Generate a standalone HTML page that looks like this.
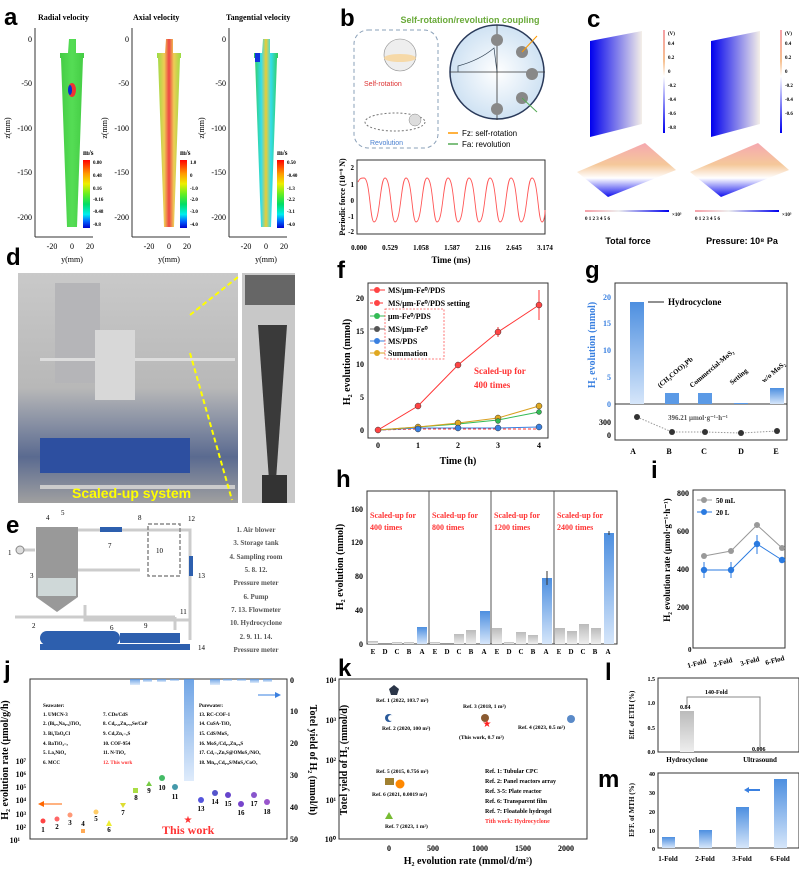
<!DOCTYPE html>
<html><head><meta charset="utf-8"><style>
body{margin:0;background:#fff}
svg{display:block;font-family:"Liberation Serif",serif}
.s{font-family:"Liberation Sans",sans-serif}
.L{font-family:"Liberation Sans",sans-serif;font-weight:bold;font-size:24px}
.t{font-size:8px;font-weight:bold}
.ax{fill:none;stroke:#333;stroke-width:1}
</style></head><body>
<svg width="799" height="870" viewBox="0 0 799 870" xmlns="http://www.w3.org/2000/svg">
<defs>
<linearGradient id="bb" x1="0" y1="0" x2="0" y2="1"><stop offset="0" stop-color="#4d8fe0"/><stop offset="1" stop-color="#d6e6fa"/></linearGradient>
<linearGradient id="gb" x1="0" y1="0" x2="0" y2="1"><stop offset="0" stop-color="#bbb"/><stop offset="1" stop-color="#eee"/></linearGradient>
<linearGradient id="cb1" x1="0" y1="0" x2="0" y2="1"><stop offset="0" stop-color="#f00"/><stop offset=".2" stop-color="#f90"/><stop offset=".35" stop-color="#ee0"/><stop offset=".5" stop-color="#6e2"/><stop offset=".65" stop-color="#0d6"/><stop offset=".8" stop-color="#0ee"/><stop offset=".9" stop-color="#06f"/><stop offset="1" stop-color="#00c"/></linearGradient>
<linearGradient id="cone1" x1="0" x2="1"><stop offset="0" stop-color="#4c4"/><stop offset=".5" stop-color="#5d5"/><stop offset="1" stop-color="#4c4"/></linearGradient>
<linearGradient id="cone2" x1="0" x2="1"><stop offset="0" stop-color="#9d4"/><stop offset=".3" stop-color="#ec5"/><stop offset=".5" stop-color="#e44"/><stop offset=".7" stop-color="#ec5"/><stop offset="1" stop-color="#9d4"/></linearGradient>
<linearGradient id="cone3" x1="0" x2="1"><stop offset="0" stop-color="#3c5"/><stop offset=".3" stop-color="#3de"/><stop offset=".5" stop-color="#ec3"/><stop offset=".7" stop-color="#3de"/><stop offset="1" stop-color="#3c5"/></linearGradient>
<linearGradient id="cpan" x1="0" x2="1"><stop offset="0" stop-color="#00e"/><stop offset="1" stop-color="#f4efe8"/></linearGradient>
<linearGradient id="cpan2" x1="0" y1="0" x2="0" y2="1"><stop offset="0" stop-color="#f5a8b0"/><stop offset=".4" stop-color="#f5c89a"/><stop offset=".65" stop-color="#fff"/><stop offset="1" stop-color="#11e"/></linearGradient>
<linearGradient id="cbar" x1="0" y1="0" x2="0" y2="1"><stop offset="0" stop-color="#f5a0a8"/><stop offset=".3" stop-color="#f6c090"/><stop offset=".45" stop-color="#fff"/><stop offset="1" stop-color="#00e"/></linearGradient>
<linearGradient id="hbar" x1="0" x2="1"><stop offset="0" stop-color="#f5a0a8"/><stop offset=".4" stop-color="#eee"/><stop offset="1" stop-color="#00e"/></linearGradient>
<linearGradient id="photo" x1="0" y1="0" x2="0" y2="1"><stop offset="0" stop-color="#c9c9c9"/><stop offset=".5" stop-color="#b8b8b8"/><stop offset=".8" stop-color="#5a6a90"/><stop offset="1" stop-color="#a0a0a0"/></linearGradient>
<radialGradient id="circ"><stop offset="0" stop-color="#fff"/><stop offset="1" stop-color="#cfe2f3"/></radialGradient>
</defs>

<!-- ===== a ===== -->
<text x="4" y="25" class="L">a</text>
<g class="t" font-size="9"><text x="38" y="20">Radial velocity</text><text x="133" y="20">Axial velocity</text><text x="226" y="20">Tangential velocity</text></g>
<g id="cA">
<line x1="35" y1="28" x2="35" y2="237" class="ax"/><line x1="35" y1="237" x2="93" y2="237" class="ax"/>
<g font-size="8" text-anchor="end"><text x="32" y="42">0</text><text x="32" y="86">-50</text><text x="32" y="131">-100</text><text x="32" y="175">-150</text><text x="32" y="220">-200</text></g>
<g font-size="8" text-anchor="middle"><text x="52" y="249">-20</text><text x="72" y="249">0</text><text x="90" y="249">20</text><text x="72" y="262">y(mm)</text></g>
<text transform="translate(10,128) rotate(-90)" font-size="8" text-anchor="middle">z(mm)</text>
</g>
<use href="#cA" x="97"/><use href="#cA" x="194"/>
<path d="M69,39h7v14h8v5h-1l-6,169h-10l-6,-169h-1v-5h8z" fill="url(#cone1)"/>
<ellipse cx="72" cy="90" rx="4" ry="7" fill="#e33"/><ellipse cx="70" cy="90" rx="2" ry="5" fill="#03c"/>
<path d="M166,39h7v14h8v5h-1l-6,169h-10l-6,-169h-1v-5h8z" fill="url(#cone2)"/>
<path d="M263,39h7v14h8v5h-1l-6,169h-10l-6,-169h-1v-5h8z" fill="url(#cone3)"/>
<rect x="255" y="53" width="5" height="9" fill="#13d"/>
<g font-size="5" font-weight="bold">
<rect x="83" y="160" width="7" height="68" fill="url(#cb1)"/><text x="83" y="155" font-size="7">m/s</text>
<text x="93" y="164">0.80</text><text x="93" y="177">0.48</text><text x="93" y="190">0.16</text><text x="93" y="201">-0.16</text><text x="93" y="213">-0.48</text><text x="93" y="226">-0.8</text>
<rect x="180" y="160" width="7" height="68" fill="url(#cb1)"/><text x="180" y="155" font-size="7">m/s</text>
<text x="190" y="164">1.0</text><text x="190" y="177">0</text><text x="190" y="190">-1.0</text><text x="190" y="201">-2.0</text><text x="190" y="213">-3.0</text><text x="190" y="226">-4.0</text>
<rect x="277" y="160" width="7" height="68" fill="url(#cb1)"/><text x="277" y="155" font-size="7">m/s</text>
<text x="287" y="164">0.50</text><text x="287" y="177">-0.40</text><text x="287" y="190">-1.3</text><text x="287" y="201">-2.2</text><text x="287" y="213">-3.1</text><text x="287" y="226">-4.0</text>
</g>

<!-- ===== b ===== -->
<text x="340" y="26" class="L">b</text>
<text x="470" y="23" class="s" font-size="9" font-weight="bold" fill="#6aaa3a" text-anchor="middle">Self-rotation/revolution coupling</text>
<rect x="354" y="30" width="84" height="118" rx="14" fill="none" stroke="#8aa0b8" stroke-dasharray="4,3"/>
<circle cx="400" cy="55" r="16" fill="#eee" stroke="#888" stroke-width=".6"/><ellipse cx="400" cy="58" rx="16" ry="4" fill="#f6d9a8"/>
<text x="364" y="86" class="s" font-size="7" fill="#d33">Self-rotation</text>
<ellipse cx="395" cy="122" rx="30" ry="9" fill="none" stroke="#777" stroke-dasharray="2,2"/><circle cx="415" cy="120" r="6" fill="#ddd" stroke="#888" stroke-width=".5"/>
<text x="370" y="145" class="s" font-size="7" fill="#4a80d0">Revolution</text>
<circle cx="497" cy="72" r="47" fill="url(#circ)" stroke="#2a3a5a" stroke-width="1.5"/>
<line x1="450" y1="72" x2="545" y2="72" stroke="#333" stroke-width=".8"/><line x1="497" y1="25" x2="497" y2="120" stroke="#333" stroke-width=".8"/>
<path d="M458,72 L458,66 Q480,60 494,48 L497,72" fill="none" stroke="#345" stroke-width=".7"/>
<g fill="#888"><circle cx="497" cy="40" r="6"/><circle cx="522" cy="52" r="6"/><circle cx="532" cy="74" r="6"/><circle cx="522" cy="98" r="6"/><circle cx="497" cy="109" r="6"/></g>
<line x1="522" y1="52" x2="537" y2="36" stroke="#f90"/><line x1="522" y1="98" x2="537" y2="112" stroke="#5a5"/>
<g class="s" font-size="8"><line x1="448" y1="133" x2="458" y2="133" stroke="#f90" stroke-width="1.5"/><text x="462" y="136">Fz: self-rotation</text>
<line x1="448" y1="144" x2="458" y2="144" stroke="#5a5" stroke-width="1.5"/><text x="462" y="147">Fa: revolution</text></g>
<rect x="357" y="160" width="188" height="74" class="ax"/>
<path d="M358,182 C360,178 361,178 364,178 C370,178 370,222 374,222 C380,222 380,178 385,178 C391,178 391,222 395,222 C401,222 401,178 406,178 C412,178 412,222 416,222 C422,222 422,178 427,178 C433,178 433,222 437,222 C443,222 443,178 448,178 C454,178 454,222 458,222 C464,222 464,178 469,178 C475,178 475,222 479,222 C485,222 485,178 490,178 C496,178 496,222 500,222 C506,222 506,178 511,178 C517,178 517,222 521,222 C527,222 527,178 532,178 C538,178 538,222 542,222 C544,222 545,215 545,210" fill="none" stroke="#f55" stroke-width=".9"/>
<g font-size="7" font-weight="bold" text-anchor="end"><text x="354" y="170">2</text><text x="354" y="187">1</text><text x="354" y="203">0</text><text x="354" y="219">-1</text><text x="354" y="234">-2</text></g>
<text transform="translate(345,197) rotate(-90)" font-size="8" font-weight="bold" text-anchor="middle">Periodic force (10⁻⁹ N)</text>
<g font-size="7" font-weight="bold" text-anchor="middle"><text x="359" y="250">0.000</text><text x="390" y="250">0.529</text><text x="421" y="250">1.058</text><text x="452" y="250">1.587</text><text x="483" y="250">2.116</text><text x="514" y="250">2.645</text><text x="545" y="250">3.174</text></g>
<text x="451" y="263" font-size="9" font-weight="bold" text-anchor="middle">Time (ms)</text>

<!-- ===== c ===== -->
<text x="587" y="27" class="L">c</text>
<polygon points="590,41 642,31 642,124 590,137" fill="url(#cpan)"/>
<polygon points="711,41 760,31 760,124 711,137" fill="url(#cpan)"/>
<rect x="663" y="30" width="2" height="103" fill="url(#cbar)"/><rect x="780" y="30" width="2" height="103" fill="url(#cbar)"/>
<g font-size="5" font-weight="bold"><text x="668" y="35">(V)</text><text x="668" y="45">0.4</text><text x="668" y="59">0.2</text><text x="668" y="73">0</text><text x="668" y="87">-0.2</text><text x="668" y="101">-0.4</text><text x="668" y="115">-0.6</text><text x="668" y="129">-0.8</text>
<text x="785" y="35">(V)</text><text x="785" y="45">0.4</text><text x="785" y="59">0.2</text><text x="785" y="73">0</text><text x="785" y="87">-0.2</text><text x="785" y="101">-0.4</text><text x="785" y="115">-0.6</text></g>
<polygon points="577,172 645,143 676,170 608,197" fill="url(#cpan2)"/>
<polygon points="690,172 758,143 789,170 721,197" fill="url(#cpan2)"/>
<rect x="585" y="210" width="84" height="2" fill="url(#hbar)"/><rect x="695" y="210" width="84" height="2" fill="url(#hbar)"/>
<g font-size="5" font-weight="bold"><text x="585" y="220">0   1   2   3   4   5   6</text><text x="672" y="216">×10³</text><text x="695" y="220">0   1   2   3   4   5   6</text><text x="782" y="216">×10³</text></g>
<g class="s" font-size="9" font-weight="bold" text-anchor="middle"><text x="628" y="244">Total force</text><text x="742" y="244">Pressure: 10⁸ Pa</text></g>

<!-- ===== d ===== -->
<text x="6" y="265" class="L">d</text>
<rect x="18" y="273" width="220" height="230" fill="url(#photo)"/>
<rect x="55" y="283" width="45" height="100" fill="#b5b5b8"/><rect x="40" y="358" width="195" height="3" fill="#ddd"/><rect x="95" y="330" width="40" height="70" fill="#d8d8d8"/>
<rect x="40" y="438" width="150" height="35" fill="#2d4fa0"/><rect x="40" y="485" width="195" height="4" fill="#ccc"/>
<line x1="190" y1="315" x2="238" y2="277" stroke="#ff0" stroke-width="2" stroke-dasharray="5,3"/><line x1="190" y1="353" x2="232" y2="500" stroke="#ff0" stroke-width="2" stroke-dasharray="5,3"/>
<text x="72" y="498" class="s" font-size="14" font-weight="bold" fill="#ff0">Scaled-up system</text>
<rect x="242" y="273" width="53" height="230" fill="#c8c8c8"/>
<rect x="245" y="275" width="50" height="30" fill="#666"/><polygon points="258,325 287,325 276,480 269,480" fill="#3a3a3a"/><rect x="262" y="475" width="25" height="28" fill="#333"/>

<!-- ===== e ===== -->
<text x="6" y="533" class="L">e</text>
<g stroke="#ccc" stroke-width="3" fill="none"><path d="M22,550H35M78,530H190V575M60,570H140M85,605V620H190M15,617H175M175,617V630M190,560V640"/></g>
<path d="M36,527h42v70l-21,15l-21,-15z" fill="#999"/><rect x="38" y="578" width="38" height="18" fill="#cfd8d8"/>
<circle cx="20" cy="550" r="4" fill="#ddd" stroke="#888"/>
<rect x="100" y="527" width="22" height="5" fill="#2d5fae"/><rect x="189" y="556" width="4" height="20" fill="#2d5fae"/>
<rect x="148" y="524" width="32" height="52" fill="none" stroke="#888" stroke-width="1.5" stroke-dasharray="4,2"/>
<rect x="40" y="631" width="80" height="14" rx="7" fill="#2d5fae"/><rect x="120" y="633" width="60" height="10" fill="#2d5fae"/><rect x="40" y="644" width="150" height="6" fill="#2d5fae"/>
<g font-size="7"><text x="8" y="555">1</text><text x="30" y="578">3</text><text x="46" y="520">4</text><text x="61" y="515">5</text><text x="108" y="548">7</text><text x="138" y="520">8</text><text x="156" y="553">10</text><text x="188" y="521">12</text><text x="198" y="578">13</text><text x="180" y="614">11</text><text x="32" y="628">2</text><text x="110" y="630">6</text><text x="144" y="628">9</text><text x="198" y="650">14</text></g>
<g font-size="7" font-weight="bold" fill="#555" text-anchor="middle"><text x="256" y="532">1. Air blower</text><text x="256" y="545">3. Storage tank</text><text x="256" y="559">4. Sampling room</text><text x="256" y="572">5. 8. 12.</text><text x="256" y="585">Pressure meter</text><text x="256" y="599">6. Pump</text><text x="256" y="612">7. 13. Flowmeter</text><text x="256" y="625">10. Hydrocyclone</text><text x="256" y="639">2. 9. 11. 14.</text><text x="256" y="652">Pressure meter</text></g>

<!-- ===== f ===== -->
<text x="337" y="278" class="L">f</text>
<rect x="368" y="283" width="180" height="155" class="ax"/>
<g font-size="8" font-weight="bold" text-anchor="end"><text x="364" y="433">0</text><text x="364" y="400">5</text><text x="364" y="367">10</text><text x="364" y="334">15</text><text x="364" y="301">20</text></g>
<g font-size="8" font-weight="bold" text-anchor="middle"><text x="378" y="448">0</text><text x="418" y="448">1</text><text x="458" y="448">2</text><text x="498" y="448">3</text><text x="539" y="448">4</text></g>
<text x="458" y="464" font-size="10" font-weight="bold" text-anchor="middle">Time (h)</text>
<text transform="translate(350,362) rotate(-90)" font-size="10" font-weight="bold" text-anchor="middle">H₂ evolution (mmol)</text>
<polyline points="378,430 418,406 458,365 498,332 539,305" fill="none" stroke="#f33"/>
<line x1="539" y1="290" x2="539" y2="320" stroke="#f33"/><line x1="498" y1="327" x2="498" y2="337" stroke="#f33"/>
<polyline points="378,430 418,429 458,429 498,429 539,429" fill="none" stroke="#f33" stroke-dasharray="3,2"/>
<polyline points="378,430 418,428 458,428 498,428 539,427" fill="none" stroke="#3a80e0"/>
<polyline points="378,430 418,427 458,424 498,420 539,412" fill="none" stroke="#3b5"/>
<polyline points="378,430 418,427 458,423 498,418 539,406" fill="none" stroke="#d9a020"/>
<g stroke-width=".5" stroke="#333"><g fill="#f44"><circle cx="378" cy="430" r="3"/><circle cx="418" cy="406" r="3"/><circle cx="458" cy="365" r="3"/><circle cx="498" cy="332" r="3"/><circle cx="539" cy="305" r="3"/></g>
<g fill="#e0a820"><circle cx="418" cy="427" r="3"/><circle cx="458" cy="423" r="3"/><circle cx="498" cy="418" r="3"/><circle cx="539" cy="406" r="3"/></g>
<g fill="#3b5"><circle cx="539" cy="412" r="2.5"/><circle cx="498" cy="421" r="2.5"/></g>
<g fill="#3a80e0"><circle cx="418" cy="429" r="3"/><circle cx="458" cy="428" r="3"/><circle cx="498" cy="428" r="3"/><circle cx="539" cy="427" r="3"/></g></g>
<g font-size="8" font-weight="bold">
<line x1="370" y1="290" x2="385" y2="290" stroke="#f33"/><circle cx="377" cy="290" r="3" fill="#f44"/><text x="388" y="293">MS/μm-Fe⁰/PDS</text>
<line x1="370" y1="303" x2="385" y2="303" stroke="#f33" stroke-dasharray="3,2"/><circle cx="377" cy="303" r="3" fill="#f44"/><text x="388" y="306">MS/μm-Fe⁰/PDS setting</text>
<line x1="370" y1="316" x2="385" y2="316" stroke="#3b5"/><circle cx="377" cy="316" r="3" fill="#3b5"/><text x="388" y="319">μm-Fe⁰/PDS</text>
<line x1="370" y1="329" x2="385" y2="329" stroke="#666"/><circle cx="377" cy="329" r="3" fill="#555"/><text x="388" y="332">MS/μm-Fe⁰</text>
<line x1="370" y1="341" x2="385" y2="341" stroke="#3a80e0"/><circle cx="377" cy="341" r="3" fill="#3a80e0"/><text x="388" y="344">MS/PDS</text>
<line x1="370" y1="353" x2="385" y2="353" stroke="#d9a020"/><circle cx="377" cy="353" r="3" fill="#e0a820"/><text x="388" y="356">Summation</text></g>
<rect x="385" y="309" width="59" height="50" fill="none" stroke="#f55" stroke-dasharray="2,1.5" stroke-width=".8"/>
<g font-size="9" font-weight="bold" fill="#f33"><text x="474" y="374">Scaled-up for</text><text x="474" y="388">400 times</text></g>

<!-- ===== g ===== -->
<text x="585" y="278" class="L">g</text>
<rect x="615" y="283" width="172" height="157" class="ax"/><line x1="615" y1="404" x2="787" y2="404" stroke="#333"/>
<rect x="630" y="302" width="14" height="102" fill="url(#bb)"/><rect x="665" y="393" width="14" height="11" fill="#5b9ae6"/><rect x="698" y="393" width="14" height="11" fill="#5b9ae6"/><rect x="734" y="403" width="14" height="1" fill="#5b9ae6"/><rect x="770" y="388" width="14" height="16" fill="url(#bb)"/>
<g font-size="8" font-weight="bold" fill="#3a80e0" text-anchor="end"><text x="611" y="407">0</text><text x="611" y="380">5</text><text x="611" y="353">10</text><text x="611" y="326">15</text><text x="611" y="300">20</text></g>
<g font-size="8" font-weight="bold" text-anchor="end"><text x="611" y="425">300</text><text x="611" y="438">0</text></g>
<text transform="translate(595,345) rotate(-90)" font-size="10" font-weight="bold" fill="#3a80e0" text-anchor="middle">H₂ evolution (mmol)</text>
<text x="668" y="305" font-size="9" font-weight="bold">Hydrocyclone</text><line x1="648" y1="302" x2="664" y2="302" stroke="#222"/>
<g font-size="7" font-weight="bold"><text transform="translate(660,388) rotate(-40)">(CH₃COO)₂Pb</text><text transform="translate(692,388) rotate(-40)">Commercial-MoS₂</text><text transform="translate(732,385) rotate(-40)">Setting</text><text transform="translate(764,383) rotate(-40)">w/o MoS₂</text></g>
<polyline points="637,417 672,432 705,432 741,433 777,431" fill="none" stroke="#999" stroke-dasharray="1.5,1.5"/>
<g fill="#333"><circle cx="637" cy="417" r="3"/><circle cx="672" cy="432" r="3"/><circle cx="705" cy="432" r="3"/><circle cx="741" cy="433" r="3"/><circle cx="777" cy="431" r="3"/></g>
<text x="668" y="420" font-size="7" font-weight="bold" fill="#555">396.21 μmol·g⁻¹·h⁻¹</text>
<g font-size="8" font-weight="bold" text-anchor="middle"><text x="633" y="454">A</text><text x="669" y="454">B</text><text x="704" y="454">C</text><text x="741" y="454">D</text><text x="776" y="454">E</text></g>

<!-- ===== h ===== -->
<text x="336" y="487" class="L">h</text>
<rect x="367" y="491" width="250" height="153" class="ax"/>
<g stroke="#555"><line x1="429" y1="491" x2="429" y2="644"/><line x1="491" y1="491" x2="491" y2="644"/><line x1="554" y1="491" x2="554" y2="644"/></g>
<g font-size="8" font-weight="bold" text-anchor="end"><text x="363" y="647">0</text><text x="363" y="613">40</text><text x="363" y="579">80</text><text x="363" y="545">120</text><text x="363" y="512">160</text></g>
<text transform="translate(343,567) rotate(-90)" font-size="10" font-weight="bold" text-anchor="middle">H₂ evolution (mmol)</text>
<g fill="url(#gb)">
<rect x="368" y="641" width="10" height="3"/><rect x="392" y="642" width="10" height="2"/><rect x="404" y="642" width="10" height="2"/>
<rect x="430" y="642" width="10" height="2"/><rect x="454" y="634" width="10" height="10"/><rect x="466" y="630" width="10" height="14"/>
<rect x="492" y="628" width="10" height="16"/><rect x="504" y="642" width="10" height="2"/><rect x="516" y="632" width="10" height="12"/><rect x="528" y="635" width="10" height="9"/>
<rect x="555" y="628" width="10" height="16"/><rect x="567" y="631" width="10" height="13"/><rect x="579" y="624" width="10" height="20"/><rect x="591" y="628" width="10" height="16"/></g>
<g fill="url(#bb)"><rect x="417" y="627" width="10" height="17"/><rect x="480" y="611" width="10" height="33"/><rect x="542" y="578" width="10" height="66"/><rect x="604" y="533" width="10" height="111"/></g>
<g stroke="#333"><line x1="547" y1="571" x2="547" y2="585"/><line x1="609" y1="531" x2="609" y2="535"/></g>
<g font-size="8" font-weight="bold" fill="#f33"><text x="370" y="518">Scaled-up for</text><text x="370" y="530">400 times</text><text x="432" y="518">Scaled-up for</text><text x="432" y="530">800 times</text><text x="494" y="518">Scaled-up for</text><text x="494" y="530">1200 times</text><text x="557" y="518">Scaled-up for</text><text x="557" y="530">2400 times</text></g>
<g font-size="7" font-weight="bold" text-anchor="middle">
<text x="373" y="654">E</text><text x="385" y="654">D</text><text x="397" y="654">C</text><text x="409" y="654">B</text><text x="422" y="654">A</text>
<text x="435" y="654">E</text><text x="447" y="654">D</text><text x="459" y="654">C</text><text x="471" y="654">B</text><text x="484" y="654">A</text>
<text x="497" y="654">E</text><text x="509" y="654">D</text><text x="521" y="654">C</text><text x="533" y="654">B</text><text x="546" y="654">A</text>
<text x="559" y="654">E</text><text x="571" y="654">D</text><text x="583" y="654">C</text><text x="595" y="654">B</text><text x="608" y="654">A</text></g>

<!-- ===== i ===== -->
<text x="651" y="478" class="L">i</text>
<rect x="693" y="490" width="92" height="158" class="ax"/>
<g font-size="8" font-weight="bold" text-anchor="end"><text x="689" y="496">800</text><text x="689" y="534">600</text><text x="689" y="572">400</text><text x="689" y="610">200</text></g>
<text transform="translate(670,560) rotate(-90)" font-size="9" font-weight="bold" text-anchor="middle">H₂ evolution rate (μmol·g⁻¹·h⁻¹)</text>
<polyline points="704,556 731,551 757,525 782,548" fill="none" stroke="#999"/>
<g fill="#999"><circle cx="704" cy="556" r="3"/><circle cx="731" cy="551" r="3"/><circle cx="757" cy="525" r="3"/><circle cx="782" cy="548" r="3"/></g>
<polyline points="704,570 731,570 757,544 782,560" fill="none" stroke="#2a7ae0"/>
<g stroke="#2a7ae0"><line x1="704" y1="562" x2="704" y2="578"/><line x1="731" y1="562" x2="731" y2="578"/><line x1="757" y1="535" x2="757" y2="554"/></g>
<g fill="#2a7ae0"><circle cx="704" cy="570" r="3.2"/><circle cx="731" cy="570" r="3.2"/><circle cx="757" cy="544" r="3.2"/><circle cx="782" cy="560" r="3.2"/></g>
<g font-size="7" font-weight="bold"><line x1="697" y1="500" x2="712" y2="500" stroke="#999"/><circle cx="704" cy="500" r="3" fill="#999"/><text x="716" y="503">50 mL</text>
<line x1="697" y1="512" x2="712" y2="512" stroke="#2a7ae0"/><circle cx="704" cy="512" r="3" fill="#2a7ae0"/><text x="716" y="515">20 L</text></g>
<text x="688" y="652" font-size="7" font-weight="bold">0</text>
<g font-size="7" font-weight="bold"><text transform="translate(688,668) rotate(-15)">1-Fold</text><text transform="translate(714,667) rotate(-15)">2-Fold</text><text transform="translate(741,666) rotate(-15)">3-Fold</text><text transform="translate(766,665) rotate(-15)">6-Flod</text></g>

<!-- ===== j ===== -->
<text x="4" y="678" class="L">j</text>
<rect x="30" y="679" width="257" height="160" class="ax"/>
<g fill="url(#bb)" opacity=".8"><rect x="130" y="679" width="10" height="6"/><rect x="143" y="679" width="9" height="3"/><rect x="157" y="679" width="9" height="3"/><rect x="170" y="679" width="9" height="2"/><rect x="184" y="679" width="10" height="102"/><rect x="210" y="679" width="10" height="6"/><rect x="223" y="679" width="9" height="2"/><rect x="237" y="679" width="9" height="2"/><rect x="250" y="679" width="9" height="4"/><rect x="263" y="679" width="9" height="3"/></g>
<g font-size="8" font-weight="bold"><text x="20" y="843" text-anchor="end">10¹</text><text x="26" y="830" text-anchor="end">10²</text><text x="26" y="817" text-anchor="end">10³</text><text x="26" y="803" text-anchor="end">10⁴</text><text x="26" y="790" text-anchor="end">10⁵</text><text x="26" y="777" text-anchor="end">10⁶</text><text x="26" y="764" text-anchor="end">10⁷</text>
<text x="290" y="683">0</text><text x="290" y="714">10</text><text x="290" y="746">20</text><text x="290" y="778">30</text><text x="290" y="810">40</text><text x="290" y="842">50</text></g>
<text transform="translate(8,760) rotate(-90)" font-size="10" font-weight="bold" text-anchor="middle">H₂ evolution rate (μmol/g/h)</text>
<text transform="translate(310,760) rotate(90)" font-size="10" font-weight="bold" text-anchor="middle">Totel yield of H₂ (mmol/h)</text>
<line x1="40" y1="804" x2="62" y2="804" stroke="#f60"/><polygon points="38,804 44,801 44,807" fill="#f60"/>
<line x1="258" y1="695" x2="278" y2="695" stroke="#3a80e0"/><polygon points="281,695 275,692 275,698" fill="#3a80e0"/>
<g font-size="5" font-weight="bold"><text x="43" y="707">Seawater:</text><text x="43" y="716">1. UMCN-3</text><text x="43" y="725">2. (Bi₀.₅Na₀.₅)TiO₃</text><text x="43" y="735">3. Bi₄TaO₈Cl</text><text x="43" y="745">4. BaTiO₃₋ₓ</text><text x="43" y="754">5. La₂NiO₄</text><text x="43" y="764">6. MCC</text>
<text x="103" y="716">7. CDs/CdS</text><text x="103" y="725">8. Cd₀.₂₅Zn₀.₇₅Se/CoP</text><text x="103" y="735">9. CdₓZn₁₋ₓS</text><text x="103" y="745">10. COF-954</text><text x="103" y="754">11. N-TiO₂</text><text x="103" y="764" fill="#f33">12. This work</text>
<text x="199" y="707">Purewater:</text><text x="199" y="716">13. RC-COF-1</text><text x="199" y="725">14. CuSA-TiO₂</text><text x="199" y="735">15. CdS/MoS₂</text><text x="199" y="745">16. MoS₂/Cd₀.₅Zn₀.₅S</text><text x="199" y="754">17. Cd₁₋ₓZnₓS@OMoS₂/NiOₓ</text><text x="199" y="764">18. Mn₀.₂Cd₀.₈S/MoS₂/CoOₓ</text></g>
<g><circle cx="43" cy="821" r="2.5" fill="#f44"/><circle cx="57" cy="819" r="2.5" fill="#f66"/><circle cx="70" cy="815" r="2.5" fill="#f97"/><rect x="81" y="829" width="4" height="4" fill="#fa5"/><circle cx="96" cy="812" r="2.5" fill="#fc6"/><polygon points="109,820 106,826 112,826" fill="#ee3"/><polygon points="120,803 126,803 123,808" fill="#dd3"/><rect x="133" y="788" width="5" height="5" fill="#ad4"/><polygon points="149,781 146,786 152,786" fill="#7c4"/><circle cx="162" cy="778" r="3" fill="#4b6"/><circle cx="175" cy="787" r="3" fill="#49a"/><circle cx="201" cy="800" r="3" fill="#55d"/><circle cx="215" cy="793" r="3" fill="#55c"/><circle cx="228" cy="795" r="3" fill="#64c"/><circle cx="241" cy="804" r="3" fill="#74c"/><circle cx="254" cy="795" r="3" fill="#85c"/><circle cx="267" cy="802" r="3" fill="#95c"/></g>
<text x="188" y="823" font-size="10" fill="#f33" text-anchor="middle">★</text>
<text x="162" y="834" font-size="12" font-weight="bold" fill="#f33">This work</text>
<g font-size="7" font-weight="bold" text-anchor="middle"><text x="43" y="832">1</text><text x="57" y="829">2</text><text x="70" y="825">3</text><text x="83" y="826">4</text><text x="96" y="821">5</text><text x="109" y="832">6</text><text x="123" y="815">7</text><text x="136" y="800">8</text><text x="149" y="793">9</text><text x="162" y="790">10</text><text x="175" y="799">11</text><text x="201" y="811">13</text><text x="215" y="804">14</text><text x="228" y="806">15</text><text x="241" y="815">16</text><text x="254" y="806">17</text><text x="267" y="814">18</text></g>

<!-- ===== k ===== -->
<text x="338" y="676" class="L">k</text>
<rect x="339" y="679" width="248" height="160" class="ax"/>
<g font-size="8" font-weight="bold" text-anchor="end"><text x="336" y="683">10⁴</text><text x="336" y="723">10³</text><text x="336" y="763">10²</text><text x="336" y="803">10¹</text><text x="336" y="842">10⁰</text></g>
<g font-size="8" font-weight="bold" text-anchor="middle"><text x="389" y="851">0</text><text x="433" y="851">500</text><text x="480" y="851">1000</text><text x="523" y="851">1500</text><text x="566" y="851">2000</text></g>
<text x="468" y="864" font-size="10" font-weight="bold" text-anchor="middle">H₂ evolution rate (mmol/d/m²)</text>
<text transform="translate(347,760) rotate(-90)" font-size="10" font-weight="bold" text-anchor="middle">Totel yield of H₂ (mmol/d)</text>
<polygon points="394,685 399,689 397,695 391,695 389,689" fill="#2a3548"/>
<circle cx="389" cy="718" r="4" fill="#2a5a9a"/><circle cx="391" cy="718" r="3" fill="#fff"/>
<rect x="385" y="778" width="9" height="7" fill="#a08030"/><circle cx="400" cy="784" r="4.5" fill="#f80"/>
<polygon points="389,812 385,819 393,819" fill="#7b3"/>
<circle cx="485" cy="718" r="4" fill="#8a5a30"/><text x="487" y="727" font-size="10" fill="#f22" text-anchor="middle">★</text>
<circle cx="571" cy="719" r="4" fill="#5a8ac8"/>
<g font-size="5.5" font-weight="bold"><text x="376" y="702">Ref. 1 (2022, 103.7 m²)</text><text x="382" y="730">Ref. 2 (2020, 100 m²)</text><text x="463" y="708">Ref. 3 (2018, 1 m²)</text><text x="518" y="729">Ref. 4 (2023, 0.5 m²)</text><text x="459" y="739">(This work, 0.7 m²)</text><text x="376" y="773">Ref. 5 (2015, 0.756 m²)</text><text x="372" y="796">Ref. 6 (2021, 0.0019 m²)</text><text x="385" y="828">Ref. 7 (2023, 1 m²)</text>
<text x="485" y="773" font-size="6">Ref. 1: Tubular CPC</text><text x="485" y="783" font-size="6">Ref. 2: Panel reactors array</text><text x="485" y="793" font-size="6">Ref. 3-5: Plate reactor</text><text x="485" y="803" font-size="6">Ref. 6: Transparent film</text><text x="485" y="813" font-size="6">Ref. 7: Floatable hydrogel</text><text x="485" y="823" font-size="6" fill="#f33">Tith work: Hydrocyclone</text></g>

<!-- ===== l ===== -->
<text x="605" y="680" class="L">l</text>
<rect x="658" y="678" width="141" height="74" class="ax"/>
<rect x="680" y="711" width="14" height="41" fill="url(#gb)"/>
<polyline points="687,706 687,697 760,697 760,749" fill="none" stroke="#888"/>
<g font-size="6" font-weight="bold"><text x="705" y="694">140-Fold</text><text x="680" y="709">0.84</text><text x="752" y="751">0.006</text></g>
<g font-size="6" font-weight="bold" text-anchor="end"><text x="655" y="681">1.5</text><text x="655" y="705">1.0</text><text x="655" y="730">0.5</text><text x="655" y="754">0.0</text></g>
<g font-size="7" font-weight="bold" text-anchor="middle"><text x="687" y="762">Hydrocyclone</text><text x="760" y="762">Ultrasound</text></g>
<text transform="translate(634,715) rotate(-90)" font-size="7" font-weight="bold" text-anchor="middle">Eff. of ETH (%)</text>

<!-- ===== m ===== -->
<text x="598" y="787" class="L">m</text>
<rect x="658" y="773" width="141" height="75" class="ax"/>
<g fill="url(#bb)"><rect x="662" y="837" width="13" height="11"/><rect x="699" y="830" width="13" height="18"/><rect x="736" y="807" width="13" height="41"/><rect x="774" y="779" width="13" height="69"/></g>
<line x1="748" y1="790" x2="760" y2="790" stroke="#3a80e0" stroke-width="2"/><polygon points="744,790 749,787 749,793" fill="#3a80e0"/>
<g font-size="6" font-weight="bold" text-anchor="end"><text x="655" y="776">40</text><text x="655" y="795">30</text><text x="655" y="814">20</text><text x="655" y="833">10</text><text x="655" y="851">0</text></g>
<g font-size="7" font-weight="bold" text-anchor="middle"><text x="668" y="861">1-Fold</text><text x="705" y="861">2-Fold</text><text x="742" y="861">3-Fold</text><text x="780" y="861">6-Fold</text></g>
<text transform="translate(634,810) rotate(-90)" font-size="7" font-weight="bold" text-anchor="middle">EFF. of MTH (%)</text>
</svg>
</body></html>
